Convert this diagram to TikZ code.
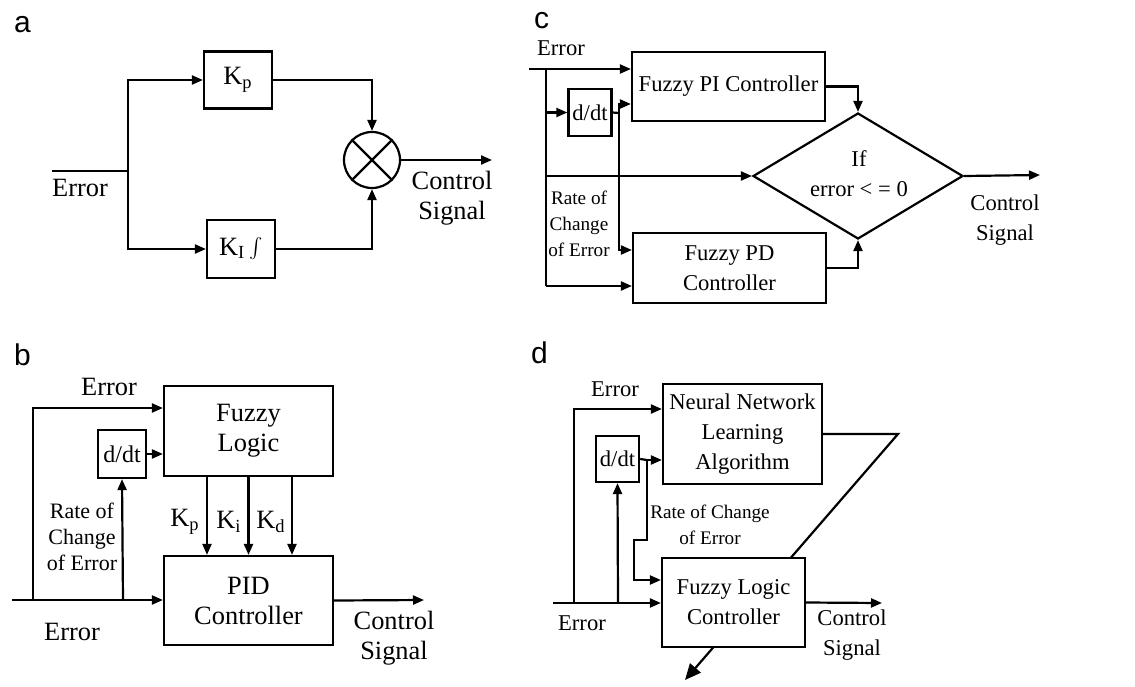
\documentclass[tikz,border=0pt]{standalone}
\usepackage{fontspec}
\setmainfont{Liberation Serif}
\newfontfamily\tagfont{Liberation Sans}
\usetikzlibrary{arrows.meta, shapes.geometric, calc}

\begin{document}
\begin{tikzpicture}[x=0.5pt, y=-0.5pt, line width=1.1pt,
  blk/.style={draw, rectangle, inner sep=2pt, align=center},
  arr/.style={-{Triangle[length=5.5pt, width=4.5pt]}},
  bigarr/.style={-{Triangle[length=8pt, width=7pt]}},
  txtA/.style={font=\fontsize{13.2}{15}\selectfont, align=center},
  txtC/.style={font=\fontsize{11.3}{15}\selectfont, align=center},
  rateB/.style={font=\fontsize{11}{13}\selectfont, align=center},
  rateC/.style={font=\fontsize{9.6}{13}\selectfont, align=center},
  tag/.style={font=\tagfont\fontsize{15}{15}\selectfont, anchor=base west, inner sep=0pt}]

  \useasboundingbox (0,0) rectangle (1135,686);

  % ---- a: K_p and K_I paths into the multiplier
  \node[tag] (tagA) at (13,32) {a};
  \node[blk, txtA, minimum width=34pt, minimum height=28.5pt] (kp) at (238,80) {K\textsubscript{p}};
  \node[blk, txtA, minimum width=34pt, minimum height=29pt] (ki) at (241,249) {K\textsubscript{I}\,$\int$};
  \node[draw, circle, inner sep=0pt, minimum size=28pt] (mul) at (372,160) {};
  \draw (mul.north east) -- (mul.south west);
  \draw (mul.north west) -- (mul.south east);
  \coordinate (aIn) at (52,171);
  \coordinate (aSplit) at (128,171);
  \coordinate (aOut) at (492,160);
  \draw (aIn) -- (aSplit);
  \draw[arr] (aSplit) |- (kp);
  \draw[arr] (aSplit) |- (ki);
  \draw[arr] (kp) -| (mul);
  \draw[arr] (ki) -| (mul);
  \draw[arr] (mul) -- (aOut);
  \node[txtA] (aErr) at (80,188) {Error};
  \node[txtA] (aCtl) at (452,198) {Control\\Signal};

  % ---- c: fuzzy PI / PD switched on the sign of the error
  \node[tag] (tagC) at (533,28) {c};
  \node[blk, txtC, minimum width=96.5pt, minimum height=34.5pt] (fpi) at (728.5,86.5) {Fuzzy PI Controller};
  \node[blk, txtC, minimum width=20pt, minimum height=23.5pt] (cdt) at (590,112.5) {d/dt};
  \node[blk, txtC, minimum width=96.5pt, minimum height=35pt] (fpd) at (729.5,268) {Fuzzy PD\\Controller};
  \node[draw, diamond, aspect=1.667, inner sep=0pt, minimum width=105pt, minimum height=63pt] (cond) at (858,176) {};
  \node[txtC] (condTxt) at (859,174) {If\\error < = 0};
  \coordinate (cIn) at (529,69);
  \coordinate (cSplit) at (546,69);
  \coordinate (cBot) at (546,286);
  \coordinate (cJ) at (619,113);
  \coordinate (cOut) at (1040,175);
  \draw[arr] (cIn) -- (cIn -| fpi.west);
  \draw (cSplit) -- (cBot);
  \draw[arr] (cBot) -- (cBot -| fpd.west);
  \draw[arr] (cSplit |- cdt) -- (cdt.west);
  \draw[arr] (cSplit |- cond) -- (cond.west);
  \draw (cdt.east) -- (cJ);
  \draw[arr] (cJ) |- ([yshift=-8.75pt]fpi.west);
  \draw[arr] (cJ) |- ([yshift=9pt]fpd.west);
  \draw[arr] (fpi) -| (cond);
  \draw[arr] (fpd) -| (cond);
  \draw[arr] (cond.east) -- (cOut);
  \node[txtC] (cErr) at (561,48) {Error};
  \node[txtC] (cCtl) at (1005,220) {Control\\Signal};
  \node[rateC] (cRate) at (579,224) {Rate of\\Change\\of Error};

  % ---- b: fuzzy logic tunes the PID gains
  \node[tag] (tagB) at (13,365) {b};
  \node[blk, txtA, minimum width=84.5pt, minimum height=45pt] (fz) at (248.5,431) {Fuzzy\\Logic};
  \node[blk, txtA, minimum width=84.5pt, minimum height=44.5pt] (pid) at (248.5,600.5) {PID\\Controller};
  \node[blk, font=\fontsize{12}{14}\selectfont, minimum width=24pt, minimum height=24pt] (bdt) at (122,454) {d/dt};
  \coordinate (bIn) at (12,600);
  \coordinate (bA) at (33,600);
  \coordinate (bB) at (123,600);
  \coordinate (bOut) at (424,600);
  \draw[arr] (bIn) -- (bIn -| pid.west);
  \draw[arr] (bA) |- ([yshift=11.5pt]fz.west);
  \draw[arr] (bB) -- (bdt.south);
  \draw[arr] (bdt) -- (bdt -| fz.west);
  \foreach \dx in {-20.75, 0, 21.75}
    \draw[arr] ([xshift=\dx pt]fz.south) -- ([xshift=\dx pt]pid.north);
  \draw[arr] (pid.east) -- (bOut);
  \node[txtA] (bKp) at (185,522) {K\textsubscript{p}};
  \node[txtA] (bKi) at (229,522) {K\textsubscript{i}};
  \node[txtA] (bKd) at (271,522) {K\textsubscript{d}};
  \node[txtA] (bErrTop) at (109,387) {Error};
  \node[txtA] (bErrBot) at (72,632) {Error};
  \node[txtA] (bCtl) at (394,638) {Control\\Signal};
  \node[rateB] (bRate) at (82,537) {Rate of\\Change\\of Error};

  % ---- d: neural network adapts the fuzzy controller
  \node[tag] (tagD) at (530,363) {d};
  \node[blk, txtC, minimum width=79.5pt, minimum height=50pt] (nn) at (742.5,434) {Neural Network\\Learning\\Algorithm};
  \coordinate (dBend) at (898,434);
  \coordinate (dTip) at (685,680);
  \draw[bigarr] (nn.east) -- (dBend) -- (dTip);
  \node[blk, txtC, fill=white, minimum width=71.5pt, minimum height=44.5pt] (flc) at (733.5,602.5) {Fuzzy Logic\\Controller};
  \node[blk, txtC, minimum width=19.5pt, minimum height=23pt] (ddt) at (617.5,459) {d/dt};
  \coordinate (dIn) at (553,603);
  \coordinate (dA) at (574,603);
  \coordinate (dB) at (618,603);
  \coordinate (dJ) at (647,460);
  \coordinate (dK) at (647,540);
  \coordinate (dL) at (634,540);
  \coordinate (dOut) at (882,603);
  \draw[arr] (dIn) -- (dIn -| flc.west);
  \draw[arr] (dA) |- ([yshift=12.5pt]nn.west);
  \draw[arr] (dB) -- (ddt.south);
  \draw (ddt.east) -- (dJ);
  \draw[arr] (dJ) -- (dJ -| nn.west);
  \draw[arr] (dJ) -- (dK) -- (dL) |- ([yshift=11.25pt]flc.west);
  \draw[arr] (flc.east) -- (dOut);
  \node[txtC] (dErrTop) at (615,389) {Error};
  \node[txtC] (dErrBot) at (582,623) {Error};
  \node[txtC] (dCtl) at (852,635) {Control\\Signal};
  \node[rateC] (dRate) at (710,525) {Rate of Change\\of Error};
\end{tikzpicture}
\end{document}
